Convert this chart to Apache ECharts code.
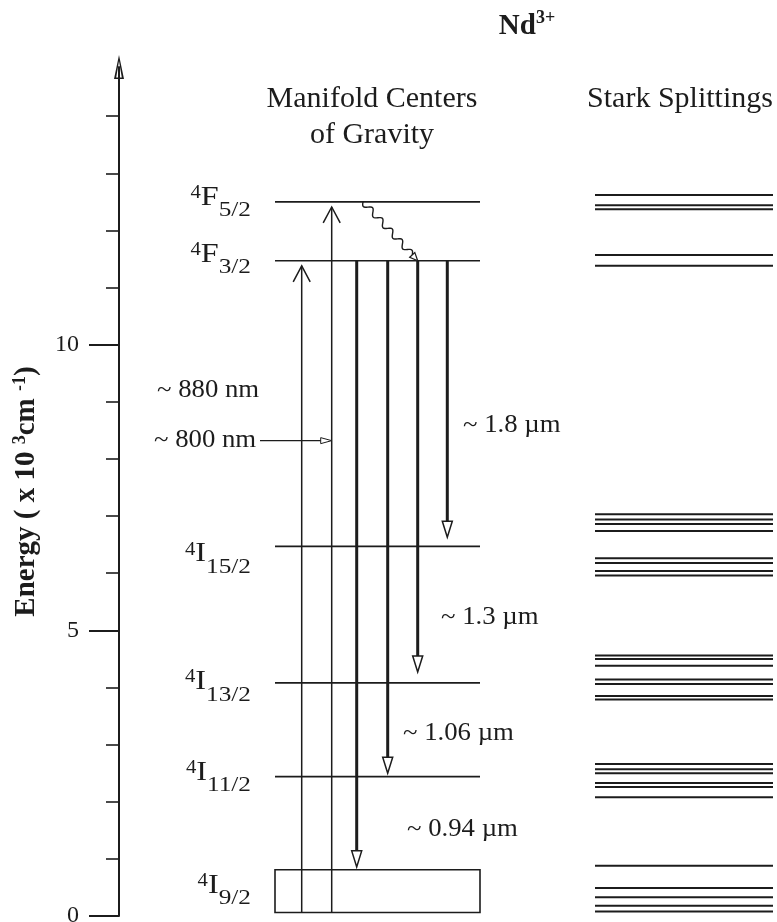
<!DOCTYPE html>
<html><head><meta charset="utf-8">
<script src="https://cdn.jsdelivr.net/npm/echarts@6/dist/echarts.min.js"></script>
<style>html,body{margin:0;padding:0;background:#fff}#c{width:777px;height:922px}</style>
</head><body><div id="c"></div>
<script>
// ---------------- DATA (energies in 10^3 cm^-1) ----------------
const levelMult   = ['4','4','4','4','4','4'];
const levelTerm   = ['F','F','I','I','I','I'];
const levelJ      = ['5/2','3/2','15/2','13/2','11/2','9/2'];
const levelEnergy = [12.50, 11.47, 6.47, 4.08, 2.44];   // manifold centres (4I9/2 drawn as band)
const groundBand  = [0.06, 0.81];                        // 4I9/2 band
const starkF52  = [12.62, 12.44, 12.37];
const starkF32  = [11.57, 11.38];
const starkI152 = [7.03, 6.94, 6.86, 6.74, 6.26, 6.18, 6.04, 5.96];
const starkI132 = [4.56, 4.50, 4.38, 4.14, 4.06, 3.85, 3.79];
const starkI112 = [2.66, 2.57, 2.50, 2.33, 2.26, 2.08];
const starkI92  = [0.88, 0.49, 0.33, 0.18, 0.08];
const pumpLabels = ['~ 880 nm', '~ 800 nm'];
const pumpFrom   = [0.06, 0.06];
const pumpTo     = [11.38, 12.41];
const emissionLabels = ['~ 0.94 \u00b5m', '~ 1.06 \u00b5m', '~ 1.3 \u00b5m', '~ 1.8 \u00b5m'];
const emissionFrom   = [11.47, 11.47, 11.47, 11.47];
const emissionTo     = [0.86, 2.50, 4.27, 6.63];
const yMajorTicks = [0, 5, 10];
const yMinorTicks = [1, 2, 3, 4, 6, 7, 8, 9, 11, 12, 13, 14];

// ---------------- LAYOUT / STYLE ----------------
const INK = '#1c1c1c';
const FONT = '"Liberation Serif","Times New Roman",serif';
const L = {
  levelX: [156, 361], starkX: [476, 654], labelRight: 132,
  pumpX: [182.7, 212.7], emitX: [237.7, 268.7, 298.7, 328.3],
  waveX: [244, 298.7],
  pointerX: [141, 212.7], pointerE: 8.32,
  pumpLabelPos: [[38, 9.2], [35, 8.32]],
  emitLabelPos: [[288, 1.52], [284, 3.2], [322, 5.23], [344, 8.59]],
  levelLabelE: [12.58, 11.58, 6.34, 4.10, 2.51, 0.54]
};
const LBL = 25;

function hLine(x1, x2, e, lw, api) {
  const a = api.coord([x1, e]), b = api.coord([x2, e]);
  return {type: 'line', shape: {x1: a[0], y1: a[1], x2: b[0], y2: b[1]}, style: {stroke: INK, lineWidth: lw}};
}

const starkAll = [].concat(starkF52, starkF32, starkI152, starkI132, starkI112, starkI92);

const chart = echarts.init(document.getElementById('c'), null, {renderer: 'canvas'});
chart.setOption({
  animation: false,
  backgroundColor: '#fff',
  grid: {left: 119, right: 0, top: 67, bottom: 6, containLabel: false, outerBoundsMode: 'none'},
  xAxis: {type: 'value', min: 0, max: 658, show: false},
  yAxis: [{
    type: 'value', min: 0, max: 14.86, position: 'left',
    axisLine: {show: true, lineStyle: {color: INK, width: 2},
      symbol: ['none', 'path://M0 24 L5 0 L10 24 Z M2.2 22.6 L7.8 22.6 L5 6 Z'], symbolSize: [10, 24]},
    axisTick: {show: true, customValues: yMajorTicks, length: 30, lineStyle: {color: INK, width: 2}},
    axisLabel: {show: true, customValues: yMajorTicks, margin: 40, color: INK, fontFamily: FONT, fontSize: 24},
    splitLine: {show: false},
    name: 'Energy ( x 10 {s|3}cm {s|-1})', nameLocation: 'middle', nameRotate: 90, nameGap: 76,
    nameTextStyle: {color: INK, fontFamily: FONT, fontWeight: 'bold', fontSize: 29,
      rich: {s: {fontFamily: FONT, fontWeight: 'bold', fontSize: 18, color: INK, padding: [0, 0, 14, 0], verticalAlign: 'middle'}}}
  }, {
    type: 'value', min: 0, max: 14.86, position: 'left',
    axisLine: {show: false},
    axisTick: {show: true, customValues: yMinorTicks, length: 13, lineStyle: {color: INK, width: 1.6}},
    axisLabel: {show: false}, splitLine: {show: false}
  }],
  graphic: [
    {type: 'text', x: 527, y: 27, style: {text: '{n|Nd}{s|3+}', align: 'center', verticalAlign: 'middle',
      rich: {n: {fontFamily: FONT, fontSize: 29, fontWeight: 'bold', fill: INK, verticalAlign: 'middle'},
             s: {fontFamily: FONT, fontSize: 18, fontWeight: 'bold', fill: INK, padding: [0, 0, 18, 0], verticalAlign: 'middle'}}}},
    {type: 'text', x: 372, y: 117, style: {text: 'Manifold Centers\nof Gravity', fontFamily: FONT, fontSize: 30, lineHeight: 36,
      fill: INK, align: 'center', verticalAlign: 'middle'}},
    {type: 'text', x: 680, y: 99, style: {text: 'Stark Splittings', fontFamily: FONT, fontSize: 30,
      fill: INK, align: 'center', verticalAlign: 'middle'}}
  ],
  series: [
    { // manifold centres
      type: 'custom', coordinateSystem: 'cartesian2d',
      data: levelEnergy.map((e, i) => [0, e, i]),
      renderItem: (p, api) => hLine(L.levelX[0], L.levelX[1], api.value(1), 1.6, api)
    },
    { // ground band 4I9/2
      type: 'custom', coordinateSystem: 'cartesian2d',
      data: [[0, groundBand[0], groundBand[1]]],
      renderItem: (p, api) => {
        const a = api.coord([L.levelX[0], api.value(2)]), b = api.coord([L.levelX[1], api.value(1)]);
        return {type: 'rect', shape: {x: a[0], y: a[1], width: b[0] - a[0], height: b[1] - a[1]},
          style: {stroke: INK, fill: null, lineWidth: 1.6}};
      }
    },
    { // stark levels
      type: 'custom', coordinateSystem: 'cartesian2d',
      data: starkAll.map(e => [0, e]),
      renderItem: (p, api) => hLine(L.starkX[0], L.starkX[1], api.value(1), 2, api)
    },
    { // pump arrows
      type: 'custom', coordinateSystem: 'cartesian2d',
      data: pumpFrom.map((f, i) => [L.pumpX[i], f, pumpTo[i]]),
      renderItem: (p, api) => {
        const a = api.coord([api.value(0), api.value(1)]), b = api.coord([api.value(0), api.value(2)]);
        return {type: 'group', children: [
          {type: 'line', shape: {x1: a[0], y1: a[1], x2: b[0], y2: b[1]}, style: {stroke: INK, lineWidth: 1.5}},
          {type: 'polyline', shape: {points: [[b[0] - 8.5, b[1] + 16], [b[0], b[1]], [b[0] + 8.5, b[1] + 16]]},
            style: {stroke: INK, lineWidth: 1.5, fill: null}}
        ]};
      }
    },
    { // emission arrows
      type: 'custom', coordinateSystem: 'cartesian2d',
      data: emissionFrom.map((f, i) => [L.emitX[i], f, emissionTo[i]]),
      renderItem: (p, api) => {
        const a = api.coord([api.value(0), api.value(1)]), b = api.coord([api.value(0), api.value(2)]);
        const h = 16, w = 5;
        return {type: 'group', children: [
          {type: 'line', shape: {x1: a[0], y1: a[1], x2: b[0], y2: b[1] - h}, style: {stroke: INK, lineWidth: 3}},
          {type: 'polygon', shape: {points: [[b[0] - w, b[1] - h], [b[0] + w, b[1] - h], [b[0], b[1]]]},
            style: {stroke: INK, lineWidth: 1.5, fill: '#fff'}}
        ]};
      }
    },
    { // non-radiative wavy decay 4F5/2 -> 4F3/2
      type: 'custom', coordinateSystem: 'cartesian2d',
      data: [[L.waveX[0], levelEnergy[0], L.waveX[1], levelEnergy[1]]],
      renderItem: (p, api) => {
        const a = api.coord([api.value(0), api.value(1)]), b = api.coord([api.value(2), api.value(3)]);
        const dx = b[0] - a[0], dy = b[1] - a[1], len = Math.hypot(dx, dy);
        const ux = dx / len, uy = dy / len, nx = -uy, ny = ux;
        const end = len - 8, pts = [];
        for (let k = 0; k <= 80; k++) {
          const t = k / 80, s = t * end, off = 3 * Math.sin(2 * Math.PI * 5 * t);
          pts.push([a[0] + ux * s + nx * off, a[1] + uy * s + ny * off]);
        }
        const bx = a[0] + ux * end, by = a[1] + uy * end;
        return {type: 'group', children: [
          {type: 'polyline', shape: {points: pts}, style: {stroke: INK, lineWidth: 1.4, fill: null}},
          {type: 'polygon', shape: {points: [[bx + nx * 3.5, by + ny * 3.5], [bx - nx * 3.5, by - ny * 3.5], [b[0], b[1]]]},
            style: {stroke: INK, lineWidth: 1.2, fill: '#fff'}}
        ]};
      }
    },
    { // pointer for 800 nm label
      type: 'custom', coordinateSystem: 'cartesian2d',
      data: [[L.pointerX[0], L.pointerE, L.pointerX[1]]],
      renderItem: (p, api) => {
        const a = api.coord([api.value(0), api.value(1)]), b = api.coord([api.value(2), api.value(1)]);
        return {type: 'group', children: [
          {type: 'line', shape: {x1: a[0], y1: a[1], x2: b[0] - 10, y2: b[1]}, style: {stroke: INK, lineWidth: 1.3}},
          {type: 'polygon', shape: {points: [[b[0] - 11, b[1] - 3], [b[0] - 11, b[1] + 3], [b[0], b[1]]]},
            style: {stroke: INK, lineWidth: 1, fill: '#fff'}}
        ]};
      }
    },
    { // level labels
      type: 'custom', coordinateSystem: 'cartesian2d',
      data: levelTerm.map((t, i) => [L.labelRight, L.levelLabelE[i], i]),
      renderItem: (p, api) => {
        const i = api.value(2), c = api.coord([api.value(0), api.value(1)]);
        return {type: 'text', x: c[0], y: c[1], scaleX: 1.15, style: {
          text: '{s|' + levelMult[i] + '}{m|' + levelTerm[i] + '}{j|' + levelJ[i] + '}',
          align: 'right', verticalAlign: 'middle',
          rich: {
            s: {fontFamily: FONT, fontSize: 18, fill: INK, padding: [0, 0, 8, 0], verticalAlign: 'middle'},
            m: {fontFamily: FONT, fontSize: 28, fill: INK, verticalAlign: 'middle'},
            j: {fontFamily: FONT, fontSize: 22, fill: INK, padding: [26, 0, 0, 0], verticalAlign: 'middle'}
          }}};
      }
    },
    { // transition labels
      type: 'custom', coordinateSystem: 'cartesian2d',
      data: [].concat(
        pumpLabels.map((t, i) => [L.pumpLabelPos[i][0], L.pumpLabelPos[i][1], t]),
        emissionLabels.map((t, i) => [L.emitLabelPos[i][0], L.emitLabelPos[i][1], t])),
      dimensions: ['x', 'y', {name: 'label', type: 'ordinal'}],
      renderItem: (p, api) => {
        const c = api.coord([api.value(0), api.value(1)]);
        const d = p.dataIndex;
        const txt = d < pumpLabels.length ? pumpLabels[d] : emissionLabels[d - pumpLabels.length];
        return {type: 'text', x: c[0], y: c[1], scaleX: 1.07, style: {text: txt, fontFamily: FONT, fontSize: LBL, fill: INK,
          align: 'left', verticalAlign: 'middle'}};
      }
    }
  ]
});
</script>
</body></html>
